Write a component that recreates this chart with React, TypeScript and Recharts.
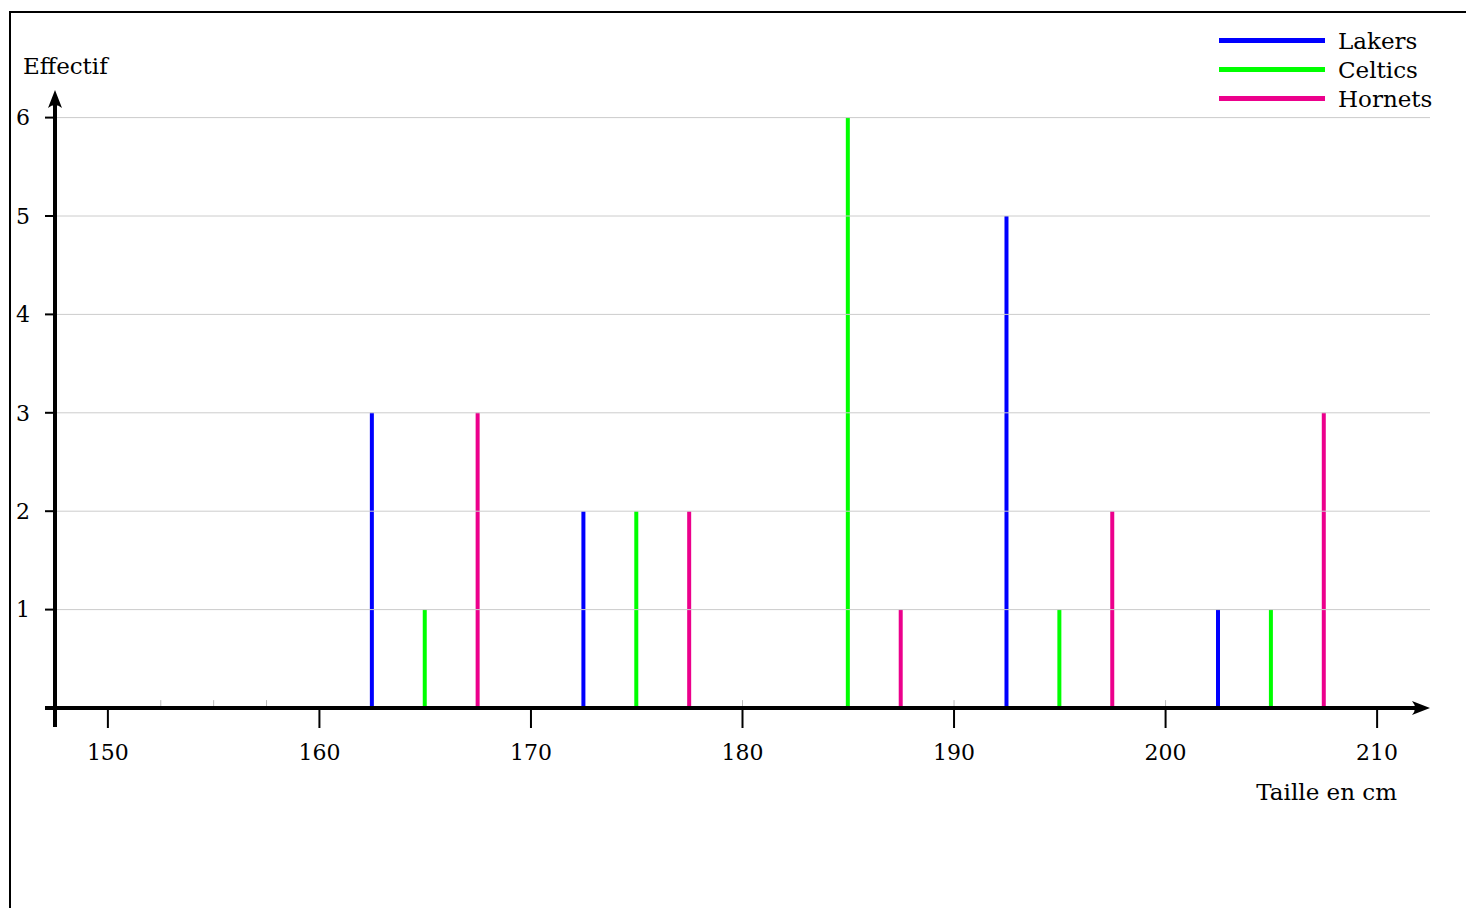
import { BarChart, Bar, XAxis, YAxis, ReferenceLine } from 'recharts';

// Tailles (cm) et effectifs par équipe
const lakersTailles = [162.5, 172.5, 182.5, 192.5, 202.5];
const lakersEffectifs = [3, 2, 0, 5, 1];
const celticsTailles = [165, 175, 185, 195, 205];
const celticsEffectifs = [1, 2, 6, 1, 1];
const hornetsTailles = [167.5, 177.5, 187.5, 197.5, 207.5];
const hornetsEffectifs = [3, 2, 1, 2, 3];

const equipes = ['Lakers', 'Celtics', 'Hornets'];
const couleurs = ['#0000ff', '#00ff00', '#ec008c'];

const xTicks = [150, 160, 170, 180, 190, 200, 210];
const yTicks = [1, 2, 3, 4, 5, 6];
const reperes = [152.5, 155, 157.5, 180, 190, 200];

const FONT = '"DejaVu Serif", serif';

function buildRows() {
  const rows = new Map<number, any>();
  const series: [string, number[], number[]][] = [
    ['Lakers', lakersTailles, lakersEffectifs],
    ['Celtics', celticsTailles, celticsEffectifs],
    ['Hornets', hornetsTailles, hornetsEffectifs],
  ];
  series.forEach(([nom, tailles, effectifs]) => {
    tailles.forEach((t, i) => {
      const row = rows.get(t) || { taille: t };
      row[nom] = effectifs[i];
      rows.set(t, row);
    });
  });
  return Array.from(rows.values()).sort((a, b) => a.taille - b.taille);
}

const data = buildRows();

function XArrow(props: any) {
  const { x1, x2, y1 } = props;
  const left = Math.min(x1, x2) - 10;
  const tip = Math.max(x1, x2);
  return (
    <g>
      <line x1={left} y1={y1} x2={tip - 8} y2={y1} stroke="#000" strokeWidth={4} />
      <path d={`M${tip},${y1} L${tip - 18},${y1 - 7} Q${tip - 12},${y1} ${tip - 18},${y1 + 7} Z`} fill="#000" />
    </g>
  );
}

function YArrow(props: any) {
  const { x1, y1, y2 } = props;
  const tip = Math.min(y1, y2) - 3;
  const bottom = Math.max(y1, y2) + 19;
  return (
    <g>
      <line x1={x1} y1={bottom} x2={x1} y2={tip + 8} stroke="#000" strokeWidth={4} />
      <path d={`M${x1},${tip} L${x1 - 7},${tip + 18} Q${x1},${tip + 12} ${x1 + 7},${tip + 18} Z`} fill="#000" />
    </g>
  );
}

export default function App() {
  return (
    <div style={{ position: 'absolute', left: 0, top: 0, width: 1466, height: 908, overflow: 'hidden', background: '#fff', fontFamily: FONT }}>
      <div style={{ position: 'absolute', left: 9, top: 11, width: 1470, height: 910, borderLeft: '2px solid #000', borderTop: '2px solid #000' }} />
      <BarChart
        width={1466}
        height={908}
        data={data}
        margin={{ top: 93, right: 36, bottom: 0, left: 0 }}
        barSize={4}
        barGap={-4}
      >
        <XAxis
          dataKey="taille"
          type="number"
          domain={[147.5, 212.5]}
          allowDataOverflow
          ticks={xTicks}
          interval={0}
          height={200}
          axisLine={false}
          tickLine={{ stroke: '#000', strokeWidth: 2 }}
          tickSize={20}
          tickMargin={16}
          tick={{ fill: '#000', fontSize: 22, fontFamily: FONT }}
        />
        <YAxis
          type="number"
          domain={[0, 6.25]}
          allowDataOverflow
          ticks={yTicks}
          interval={0}
          width={55}
          axisLine={false}
          tickLine={{ stroke: '#000', strokeWidth: 2 }}
          tickSize={10}
          tickMargin={15}
          tick={{ fill: '#000', fontSize: 22, fontFamily: FONT }}
        />
        {yTicks.map((t) => (
          <ReferenceLine key={`g${t}`} y={t} stroke="#cccccc" strokeWidth={1} />
        ))}
        {equipes.map((nom, i) => (
          <Bar key={nom} dataKey={nom} fill={couleurs[i]} isAnimationActive={false} />
        ))}
        {reperes.map((x) => (
          <ReferenceLine
            key={x}
            segment={[{ x, y: 0 }, { x, y: 0.08 }]}
            stroke="#bbbbbb"
            strokeWidth={1}
            ifOverflow="visible"
          />
        ))}
        <ReferenceLine y={0} ifOverflow="visible" shape={XArrow} />
        <ReferenceLine x={147.5} ifOverflow="visible" shape={YArrow} />
      </BarChart>
      <div style={{ position: 'absolute', left: 23, top: 51, fontSize: 23, color: '#000', lineHeight: '30px' }}>Effectif</div>
      <div style={{ position: 'absolute', right: 1466 - 1397, top: 777, fontSize: 23, color: '#000', lineHeight: '30px', whiteSpace: 'nowrap' }}>
        Taille en cm
      </div>
      <div style={{ position: 'absolute', left: 1219, top: 26 }}>
        {equipes.map((nom, i) => (
          <div key={nom} style={{ display: 'flex', alignItems: 'center', height: 29 }}>
            <div style={{ width: 106, height: 5, background: couleurs[i] }} />
            <span style={{ marginLeft: 13, fontSize: 23, color: '#000', lineHeight: '29px', position: 'relative', top: 1 }}>{nom}</span>
          </div>
        ))}
      </div>
    </div>
  );
}
